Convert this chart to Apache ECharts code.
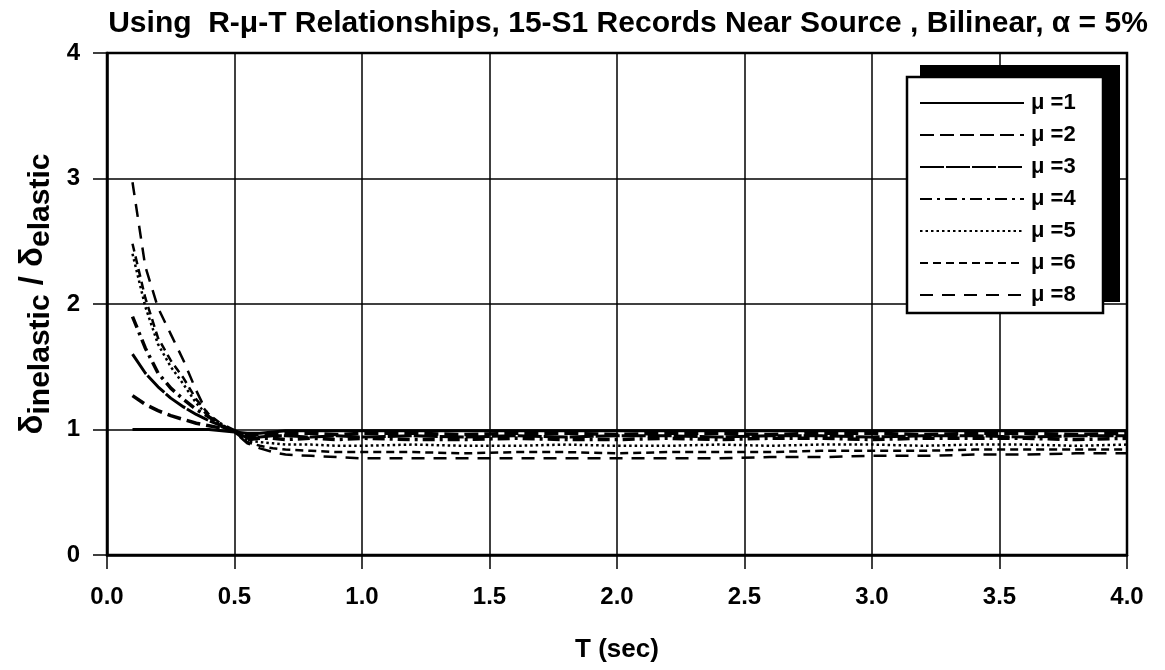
<!DOCTYPE html>
<html>
<head>
<meta charset="utf-8">
<script src="https://cdn.jsdelivr.net/npm/echarts@6/dist/echarts.min.js"></script>
<style>html,body{margin:0;padding:0;background:#fff}#c{width:1165px;height:670px}</style>
</head>
<body>
<div id="c"></div>
<script>
var T = [0.1,0.15,0.2,0.25,0.3,0.35,0.4,0.45,0.5,0.55,0.6,0.65,0.7,0.8,0.9,1.0,1.2,1.4,1.6,1.8,2.0,2.2,2.4,2.6,2.8,3.0,3.2,3.4,3.6,3.8,4.0];
var mu1 = [1.00,1.00,1.00,1.00,1.00,1.00,1.00,0.99,0.98,0.97,0.97,0.98,0.99,0.99,0.99,0.99,0.99,0.99,0.99,0.99,0.99,0.99,0.99,0.99,0.99,0.99,0.99,0.99,0.99,0.99,0.99];
var mu2 = [1.27,1.20,1.15,1.11,1.08,1.05,1.03,1.01,0.99,0.95,0.96,0.97,0.97,0.97,0.96,0.97,0.97,0.96,0.97,0.97,0.96,0.97,0.97,0.96,0.97,0.97,0.96,0.97,0.97,0.96,0.97];
var mu3 = [1.60,1.45,1.34,1.25,1.18,1.12,1.07,1.03,0.99,0.93,0.94,0.95,0.95,0.94,0.95,0.94,0.95,0.94,0.95,0.94,0.95,0.95,0.94,0.95,0.95,0.94,0.95,0.95,0.94,0.95,0.95];
var mu4 = [1.90,1.65,1.45,1.33,1.24,1.16,1.10,1.04,0.99,0.92,0.93,0.93,0.92,0.93,0.92,0.93,0.92,0.92,0.93,0.92,0.92,0.93,0.92,0.93,0.93,0.92,0.93,0.93,0.93,0.92,0.93];
var mu5 = [2.40,1.98,1.68,1.50,1.36,1.21,1.10,1.03,0.98,0.91,0.90,0.89,0.88,0.88,0.87,0.87,0.88,0.87,0.87,0.88,0.87,0.87,0.88,0.87,0.88,0.88,0.87,0.88,0.88,0.87,0.88];
var mu6 = [2.48,2.05,1.73,1.55,1.41,1.24,1.12,1.04,0.98,0.90,0.87,0.85,0.84,0.83,0.82,0.82,0.82,0.81,0.82,0.82,0.81,0.82,0.82,0.82,0.83,0.83,0.83,0.84,0.84,0.84,0.84];
var mu8 = [2.97,2.30,1.97,1.76,1.55,1.31,1.10,1.02,0.98,0.89,0.85,0.82,0.80,0.79,0.78,0.77,0.77,0.77,0.77,0.77,0.77,0.77,0.77,0.78,0.78,0.79,0.79,0.80,0.80,0.81,0.81];
var seriesNames = ['\u03bc =1','\u03bc =2','\u03bc =3','\u03bc =4','\u03bc =5','\u03bc =6','\u03bc =8'];
var xTicks = ['0.0','0.5','1.0','1.5','2.0','2.5','3.0','3.5','4.0'];

var allData = [mu1, mu2, mu3, mu4, mu5, mu6, mu8];
var styles = [
  {type:'solid', width:3},
  {type:[14,6], width:3.5},
  {type:[24,2], width:3},
  {type:[12,5,3,5], width:3.5},
  {type:[2.5,3], width:2.5},
  {type:[8,5], width:2.5},
  {type:[13,9], width:2.5}
];
function pairs(arr){ return T.map(function(t,i){ return [t, arr[i]]; }); }
var series = allData.map(function(arr, k){
  return {
    name: seriesNames[k], type:'line', data: pairs(arr), symbol:'none', smooth:false,
    lineStyle: {color:'#000', width: styles[k].width, type: styles[k].type},
    itemStyle: {color:'#000'}, z: 3
  };
});
var F = 'Liberation Sans, Arial, sans-serif';
var chart = echarts.init(document.getElementById('c'), null, {renderer:'canvas'});
chart.setOption({
  animation:false,
  backgroundColor:'#fff',
  title:{text:'Using  R-\u03bc-T Relationships, 15-S1 Records Near Source , Bilinear, \u03b1 = 5%', left: 623, top: 4, textAlign:'center',
    textStyle:{fontFamily:F, fontSize:30, fontWeight:'bold', color:'#000'}},
  grid:{left:107, right:38, top:53, bottom:115, show:true, borderColor:'#000', borderWidth:2.5},
  xAxis:{type:'value', min:0, max:4, interval:0.5,
    axisLine:{show:true, lineStyle:{color:'#000', width:2.5}},
    axisTick:{show:true, inside:false, length:14, lineStyle:{color:'#000', width:1.5}},
    splitLine:{show:true, lineStyle:{color:'#000', width:1.5}},
    axisLabel:{margin:30, fontFamily:F, fontSize:24, fontWeight:'bold', color:'#000',
      formatter:function(v){ return xTicks[Math.round(v/0.5)]; }},
    name:'T (sec)', nameLocation:'middle', nameGap:82,
    nameTextStyle:{fontFamily:F, fontSize:26, fontWeight:'bold', color:'#000'}},
  yAxis:{type:'value', min:0, max:4, interval:1,
    axisLine:{show:true, lineStyle:{color:'#000', width:2.5}},
    axisTick:{show:true, inside:false, length:14, lineStyle:{color:'#000', width:1.5}},
    splitLine:{show:true, lineStyle:{color:'#000', width:1.5}},
    axisLabel:{margin:27, fontFamily:F, fontSize:24, fontWeight:'bold', color:'#000'},
    name:'{d|\u03b4}{s|inelastic}{d| / \u03b4}{s|elastic}', nameLocation:'middle', nameGap:48, nameRotate:90,
    nameTextStyle:{padding:[0,0,0,20], rich:{
      d:{fontFamily:F, fontSize:33, fontWeight:'bold', color:'#000', lineHeight:32, verticalAlign:'top'},
      s:{fontFamily:F, fontSize:30, fontWeight:'bold', color:'#000', lineHeight:28, verticalAlign:'top', padding:[9,0,0,0]}
    }}},
  legend:{orient:'vertical', left:914, top:87, itemGap:10, itemWidth:104, itemHeight:19,
    data: seriesNames, z:20,
    itemStyle:{opacity:0},
    textStyle:{fontFamily:F, fontSize:22, lineHeight:22, fontWeight:'bold', color:'#000', padding:[0,0,0,2]},
    backgroundColor:'transparent'},
  graphic:[
    {type:'rect', shape:{x:920, y:65, width:200, height:237}, style:{fill:'#000'}, z:15},
    {type:'rect', shape:{x:907, y:77, width:196, height:236}, style:{fill:'#fff', stroke:'#000', lineWidth:2.5}, z:16}
  ],
  series: series
});
</script>
</body>
</html>
